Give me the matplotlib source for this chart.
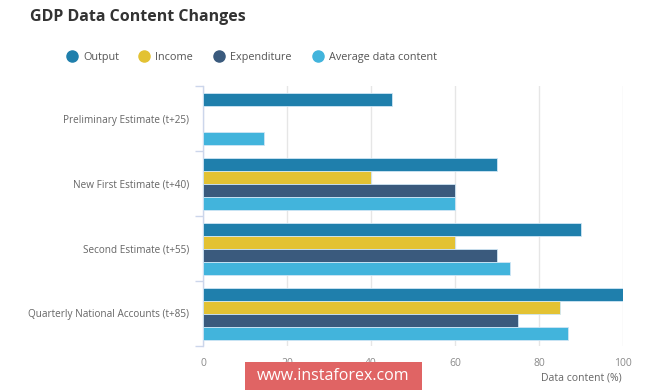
import numpy as np
import matplotlib
matplotlib.use("Agg")
import matplotlib.pyplot as plt
from matplotlib.patches import Rectangle
from matplotlib.lines import Line2D

plt.rcParams['font.family'] = ['Open Sans', 'DejaVu Sans']

categories = ["Preliminary Estimate (t+25)", "New First Estimate (t+40)",
              "Second Estimate (t+55)", "Quarterly National Accounts (t+85)"]
series_names = ["Output", "Income", "Expenditure", "Average data content"]
output = [45, 70, 90, 100]
income = [None, 40, 60, 85]
expenditure = [None, 60, 70, 75]
average = [14.5, 60, 73, 87]
x_ticks = [0, 20, 40, 60, 80, 100]
colors = ["#1f7fac", "#e3c233", "#3a5a7d", "#42b4dc"]

fig = plt.figure(figsize=(6.65, 3.92), dpi=100)
ax = fig.add_axes([203/665, 1-346/392, 420/665, 260/392])

ypos = np.arange(len(categories))
h = 0.2
offsets = [-0.3, -0.1, 0.1, 0.3]
for vals, name, c, off in zip([output, income, expenditure, average], series_names, colors, offsets):
    v = np.array([np.nan if x is None else x for x in vals], dtype=float)
    ax.barh(ypos + off, v, height=h, color=c, edgecolor="#cfe6f5", linewidth=0.6, zorder=3)

ax.set_ylim(len(categories) - 0.5, -0.5)
ax.set_xlim(0, 100)
ax.set_xticks(x_ticks)
ax.set_xticklabels([str(t) for t in x_ticks], color="#8a8a8a", fontsize=7.5)
ax.tick_params(axis='x', length=0, pad=9)
ax.set_yticks(ypos)
ax.set_yticklabels(categories, color="#666666", fontsize=7.2)
ax.tick_params(axis='y', which='major', length=0, pad=10)
ax.set_yticks(np.arange(len(categories) + 1) - 0.5, minor=True)
ax.tick_params(axis='y', which='minor', length=6, color="#ccd6eb", width=1)
ax.grid(axis='x', color="#e6e6e6", linewidth=1, zorder=0)
for s in ["top", "right", "bottom"]:
    ax.spines[s].set_visible(False)
ax.spines["left"].set_color("#ccd6eb")
ax.spines["left"].set_linewidth(1)

fig.text(541/665, 1-378/392, "Data content (%)", color="#666666", fontsize=7.5,
         ha="left", va="center")

fig.text(30/665, 1-17/392, "GDP Data Content Changes", fontsize=11.5, fontweight="bold",
         color="#333333", ha="left", va="center")

leg_x = [72, 144, 219, 318]
for lx, name, c in zip(leg_x, series_names, colors):
    fig.lines.append(Line2D([lx/665], [1-56/392], marker='o', markersize=8,
                            color=c, transform=fig.transFigure, linestyle='none'))
    fig.text((lx + 11)/665, 1-56/392, name, fontsize=7.8, color="#555555",
             ha="left", va="center_baseline")

fig.patches.append(Rectangle((245/665, 1-390/392), 177/665, 28/392, transform=fig.transFigure,
                             facecolor="#e06464", edgecolor="none", zorder=10))
fig.text(333/665, 1-376/392, "www.instaforex.com", fontsize=11.5, color="white",
         ha="center", va="center", zorder=11)

fig.savefig("out.png", dpi=100)
